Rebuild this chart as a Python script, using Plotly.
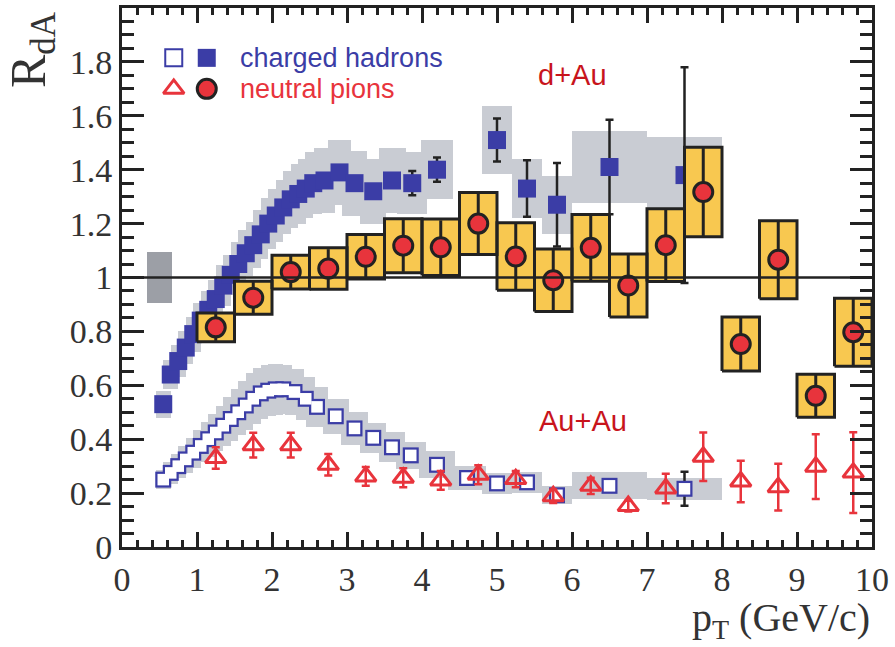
import numpy as np
import plotly.graph_objects as go

# ---------------- data ----------------
# d+Au charged hadrons (filled squares), low/intermediate pT
ch_dau_x = [0.55, 0.65, 0.75, 0.85, 0.95, 1.05, 1.15, 1.25, 1.35, 1.45, 1.55, 1.65, 1.75,
            1.85, 1.95, 2.05, 2.15, 2.25, 2.35, 2.45, 2.55, 2.7, 2.9, 3.1, 3.35, 3.6, 3.87, 4.2]
ch_dau_y = [0.53, 0.64, 0.69, 0.74, 0.79, 0.84, 0.88, 0.92, 0.97, 1.01, 1.05, 1.09, 1.12,
            1.16, 1.20, 1.23, 1.26, 1.29, 1.31, 1.33, 1.35, 1.36, 1.39, 1.35, 1.32, 1.36, 1.35, 1.40]
ch_dau_err = [0.005, 0.005, 0.005, 0.005, 0.005, 0.005, 0.005, 0.005, 0.005, 0.005, 0.005, 0.005, 0.005,
              0.005, 0.005, 0.005, 0.005, 0.005, 0.005, 0.005, 0.005, 0.01, 0.01, 0.01, 0.015, 0.02, 0.045, 0.045]
ch_dau_sys = [0.05, 0.055, 0.06, 0.06, 0.065, 0.065, 0.07, 0.07, 0.075, 0.075, 0.08, 0.085, 0.085,
              0.09, 0.095, 0.10, 0.10, 0.105, 0.11, 0.11, 0.115, 0.12, 0.12, 0.12, 0.12, 0.12, 0.115, 0.11]

# d+Au charged hadrons, high pT (sparse bins)
chh_dau_x = [5.0, 5.4, 5.8, 6.5, 7.5]
chh_dau_y = [1.51, 1.33, 1.27, 1.41, 1.38]
chh_dau_err = [0.08, 0.105, 0.155, 0.175, 0.40]
chh_dau_sys = [0.125, 0.11, 0.107, 0.135, 0.14]
chh_bin_lo = [4.8, 5.2, 5.6, 6.0, 7.0]
chh_bin_hi = [5.2, 5.6, 6.0, 7.0, 8.0]

# Au+Au charged hadrons (open squares)
ch_aa_x = [0.55, 0.65, 0.75, 0.85, 0.95, 1.05, 1.15, 1.25, 1.35, 1.45, 1.55, 1.65, 1.75, 1.85,
           1.95, 2.05, 2.15, 2.3, 2.45, 2.6, 2.85, 3.1, 3.35, 3.6, 3.85, 4.2, 4.6]
ch_aa_y = [0.25, 0.275, 0.30, 0.325, 0.35, 0.375, 0.40, 0.425, 0.45, 0.475, 0.50, 0.525, 0.55, 0.57,
           0.58, 0.585, 0.585, 0.575, 0.55, 0.52, 0.485, 0.44, 0.405, 0.37, 0.34, 0.305, 0.256]
ch_aa_err = [0.003] * 27
ch_aa_sys = [0.035, 0.04, 0.045, 0.05, 0.055, 0.06, 0.065, 0.07, 0.075, 0.08, 0.085, 0.09, 0.095, 0.095,
             0.095, 0.095, 0.09, 0.085, 0.08, 0.075, 0.065, 0.06, 0.055, 0.055, 0.05, 0.05, 0.045]

chh_aa_x = [5.0, 5.4, 5.8, 6.5, 7.5]
chh_aa_y = [0.236, 0.24, 0.192, 0.227, 0.216]
chh_aa_err = [0.008, 0.01, 0.012, 0.015, 0.063]
chh_aa_sys = [0.04, 0.04, 0.033, 0.05, 0.04]

# neutral pions d+Au (circles with yellow systematic boxes)
pi_x = [1.25, 1.75, 2.25, 2.75, 3.25, 3.75, 4.25, 4.75, 5.25, 5.75, 6.25, 6.75, 7.25, 7.75,
        8.25, 8.75, 9.25, 9.75]
pi_dau_y = [0.815, 0.925, 1.02, 1.033, 1.077, 1.118, 1.112, 1.20, 1.078, 0.99, 1.11, 0.97, 1.12, 1.317,
            0.753, 1.066, 0.561, 0.797]
pi_dau_stat = [0.05, 0.058, 0.06, 0.072, 0.08, 0.097, 0.1, 0.112, 0.122, 0.113, 0.12, 0.114, 0.132, 0.163,
               0.097, 0.142, 0.078, 0.123]
pi_dau_sys = [0.053, 0.061, 0.063, 0.077, 0.083, 0.1, 0.105, 0.115, 0.125, 0.116, 0.124, 0.117, 0.135, 0.166,
              0.1, 0.145, 0.08, 0.126]

# neutral pions Au+Au (open triangles)
pi_aa_y = [0.33, 0.378, 0.378, 0.305, 0.262, 0.257, 0.247, 0.268, 0.252, 0.188, 0.227, 0.152, 0.217, 0.335,
           0.243, 0.222, 0.298, 0.276]
pi_aa_err = [0.04, 0.046, 0.046, 0.04, 0.035, 0.035, 0.035, 0.035, 0.03, 0.025, 0.03, 0.02, 0.055, 0.09,
             0.077, 0.087, 0.12, 0.15]

# global normalisation uncertainty box
norm_x = [0.5]
norm_y = [1.0]
norm_err = [0.095]

x_ticks = list(range(0, 11))
x_ticktext = [str(v) for v in x_ticks]
y_ticks = [0, 0.2, 0.4, 0.6, 0.8, 1.0, 1.2, 1.4, 1.6, 1.8]
y_ticktext = ["0", "0.2", "0.4", "0.6", "0.8", "1", "1.2", "1.4", "1.6", "1.8"]

# ---------------- styles ----------------
BLUE = "#3b3da6"
RED = "#e8343c"
DARKRED = "#c8141c"
YELLOW = "#f8c850"
GRAY = "#c9ccd3"
DGRAY = "#9c9fa6"
INK = "#222222"
SERIF = "Liberation Serif"
SANS = "Liberation Sans"

fig = go.Figure()

def arr(a):
    return np.asarray(a, dtype=float)

# normalisation box
fig.add_trace(go.Bar(x=norm_x, y=2 * arr(norm_err), base=arr(norm_y) - arr(norm_err), width=0.34,
                     marker=dict(color=DGRAY, line=dict(width=0)), hoverinfo="skip"))

# gray systematic bands (bars)
w_dau = np.gradient(arr(ch_dau_x)) + 0.1
fig.add_trace(go.Bar(x=ch_dau_x, y=2 * arr(ch_dau_sys), base=arr(ch_dau_y) - arr(ch_dau_sys), width=w_dau,
                     marker=dict(color=GRAY, line=dict(width=0)), hoverinfo="skip"))
mid_h = (arr(chh_bin_lo) + arr(chh_bin_hi)) / 2
wid_h = arr(chh_bin_hi) - arr(chh_bin_lo)
fig.add_trace(go.Bar(x=mid_h, y=2 * arr(chh_dau_sys), base=arr(chh_dau_y) - arr(chh_dau_sys), width=wid_h,
                     marker=dict(color=GRAY, line=dict(width=0)), hoverinfo="skip"))
w_aa = np.gradient(arr(ch_aa_x)) + 0.1
fig.add_trace(go.Bar(x=ch_aa_x, y=2 * arr(ch_aa_sys), base=arr(ch_aa_y) - arr(ch_aa_sys), width=w_aa,
                     marker=dict(color=GRAY, line=dict(width=0)), hoverinfo="skip"))
fig.add_trace(go.Bar(x=mid_h, y=2 * arr(chh_aa_sys), base=arr(chh_aa_y) - arr(chh_aa_sys), width=wid_h,
                     marker=dict(color=GRAY, line=dict(width=0)), hoverinfo="skip"))

# d+Au charged hadrons
fig.add_trace(go.Scatter(x=ch_dau_x + chh_dau_x, y=ch_dau_y + chh_dau_y, mode="markers",
                         marker=dict(symbol="square", size=18, color=BLUE, line=dict(width=0)),
                         error_y=dict(type="data", array=ch_dau_err + chh_dau_err, color=INK,
                                      thickness=2.5, width=4)))

# yellow boxes for pi0 d+Au (polygons built from data)
bx, by = [], []
for xc, yc, s in zip(pi_x, pi_dau_y, pi_dau_sys):
    bx += [xc - 0.25, xc + 0.25, xc + 0.25, xc - 0.25, xc - 0.25, None]
    by += [yc - s, yc - s, yc + s, yc + s, yc - s, None]
fig.add_trace(go.Scatter(x=bx, y=by, mode="lines", fill="toself", fillcolor=YELLOW,
                         line=dict(color=INK, width=3), hoverinfo="skip"))

# pi0 d+Au circles
fig.add_trace(go.Scatter(x=pi_x, y=pi_dau_y, mode="markers",
                         marker=dict(symbol="circle", size=19, color=RED, line=dict(color=INK, width=3)),
                         error_y=dict(type="data", array=pi_dau_stat, color=INK, thickness=3, width=0)))

# Au+Au charged hadrons: open squares (blue outline layer + white interior layer)
aa_x = ch_aa_x + chh_aa_x
aa_y = ch_aa_y + chh_aa_y
fig.add_trace(go.Scatter(x=aa_x, y=aa_y, mode="markers",
                         marker=dict(symbol="square", size=16, color=BLUE, line=dict(width=0)),
                         error_y=dict(type="data", array=ch_aa_err + chh_aa_err, color=INK,
                                      thickness=2.5, width=4)))
fig.add_trace(go.Scatter(x=aa_x, y=aa_y, mode="markers",
                         marker=dict(symbol="square", size=11.5, color="white", line=dict(width=0))))

# pi0 Au+Au triangles
fig.add_trace(go.Scatter(x=pi_x, y=pi_aa_y, mode="markers",
                         marker=dict(symbol="triangle-up-open", size=18, color=RED, line=dict(color=RED, width=3)),
                         error_y=dict(type="data", array=pi_aa_err, color=RED, thickness=2.5, width=4)))

# legend keys (layout positions)
LEG_X1, LEG_X2, LEG_TX = 0.69, 1.13, 1.55
LEG_Y1, LEG_Y2 = 1.815, 1.70
fig.add_trace(go.Scatter(x=[LEG_X1], y=[LEG_Y1], mode="markers",
                         marker=dict(symbol="square", size=17, color="white", line=dict(color=BLUE, width=2))))
fig.add_trace(go.Scatter(x=[LEG_X2], y=[LEG_Y1], mode="markers",
                         marker=dict(symbol="square", size=18, color=BLUE)))
fig.add_trace(go.Scatter(x=[LEG_X1], y=[LEG_Y2], mode="markers",
                         marker=dict(symbol="triangle-up-open", size=18, color=RED, line=dict(color=RED, width=3))))
fig.add_trace(go.Scatter(x=[LEG_X2], y=[LEG_Y2], mode="markers",
                         marker=dict(symbol="circle", size=19, color=RED, line=dict(color=INK, width=3))))

fig.add_shape(type="line", xref="paper", x0=0, x1=1, yref="y", y0=1, y1=1,
              line=dict(color=INK, width=2.5), layer="above")

ann = [
    dict(x=LEG_TX, y=LEG_Y1, text="charged hadrons", font=dict(family=SANS, size=27, color=BLUE)),
    dict(x=LEG_TX, y=LEG_Y2, text="neutral pions", font=dict(family=SANS, size=27, color=RED)),
]
for a in ann:
    fig.add_annotation(xref="x", yref="y", xanchor="left", yanchor="middle", showarrow=False, **a)
fig.add_annotation(xref="x", yref="y", x=6.0, y=1.75, text="d+Au", showarrow=False,
                   font=dict(family=SANS, size=29, color=DARKRED))
fig.add_annotation(xref="x", yref="y", x=6.14, y=0.468, text="Au+Au", showarrow=False,
                   font=dict(family=SANS, size=29, color=DARKRED))
fig.add_annotation(xref="paper", yref="paper", x=-0.12, y=0.922, text="R<sub>dA</sub>", textangle=-90,
                   showarrow=False, xanchor="center", yanchor="middle",
                   font=dict(family=SERIF, size=50, color="#333"))
fig.add_annotation(xref="paper", yref="paper", x=1.0, y=-0.135, text="p<sub>T</sub> (GeV/c)",
                   showarrow=False, xanchor="right", yanchor="middle",
                   font=dict(family=SERIF, size=40, color="#333"))

axis_common = dict(showgrid=False, zeroline=False, showline=True, linewidth=3, linecolor=INK,
                   mirror="allticks", ticks="inside", tickwidth=3, tickcolor=INK,
                   tickfont=dict(family=SERIF, size=34, color="#333"))
fig.update_xaxes(range=[0, 10], tickvals=x_ticks, ticktext=x_ticktext, ticklen=15,
                 minor=dict(dtick=0.2, ticklen=7, tickwidth=2.5, ticks="inside", tickcolor=INK, showgrid=False),
                 **axis_common)
fig.update_yaxes(range=[0, 2], tickvals=y_ticks, ticktext=y_ticktext, ticklen=22,
                 minor=dict(dtick=0.05, ticklen=12, tickwidth=2.5, ticks="inside", tickcolor=INK, showgrid=False),
                 **axis_common)

fig.update_layout(width=895, height=647, margin=dict(l=122, r=23, t=5, b=100),
                  plot_bgcolor="white", paper_bgcolor="white", showlegend=False,
                  barmode="overlay", bargap=0)

fig.write_html("out.html", config={"displayModeBar": False},
               post_script="document.body.style.margin='0px';document.body.style.overflow='hidden';")
